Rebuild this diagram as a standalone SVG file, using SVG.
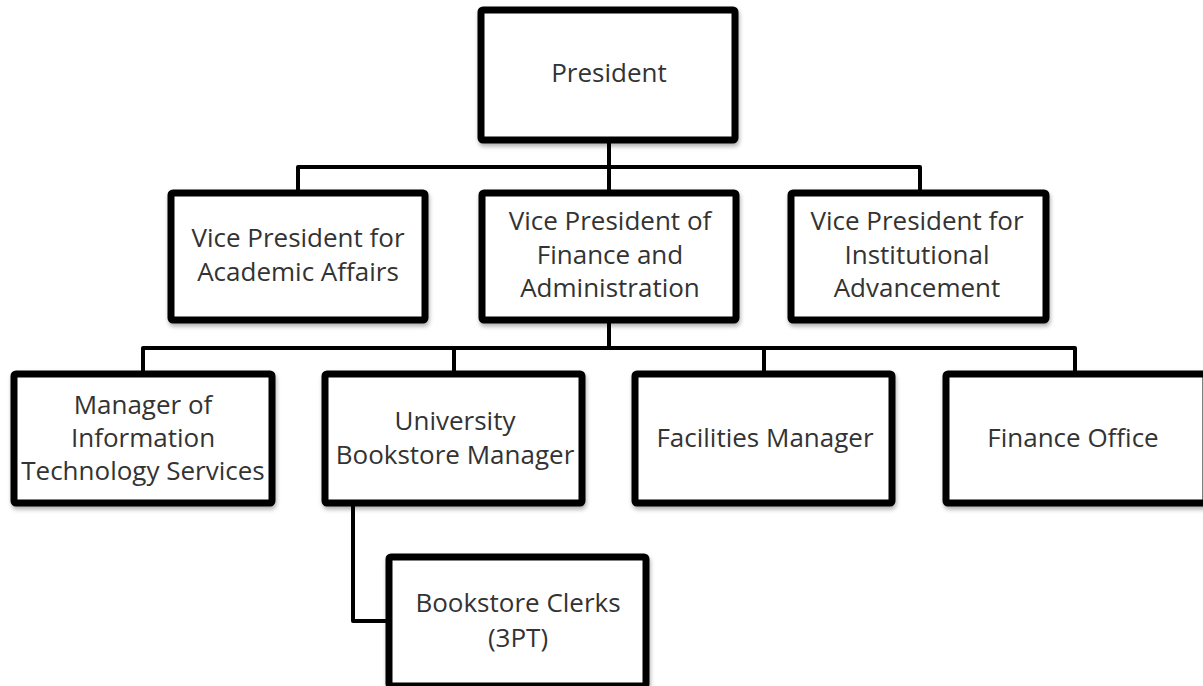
<svg xmlns="http://www.w3.org/2000/svg" width="1203" height="686" viewBox="0 0 1203 686">
  <style>
    .box { fill: #ffffff; stroke: #000000; stroke-width: 7; filter: url(#shadow); }
    .link { fill: none; stroke: #000000; stroke-width: 4; stroke-linejoin: round; }
    .label { font-family: "Open Sans", Lato, sans-serif; font-size: 26px; fill: #333333; text-anchor: middle; }
  </style>
  <defs>
    <filter id="shadow" x="-5%" y="-5%" width="115%" height="120%">
      <feDropShadow dx="1" dy="3" stdDeviation="2" flood-color="#000000" flood-opacity="0.3"/>
    </filter>
  </defs>
  <rect width="1203" height="686" fill="#ffffff"/>

  <!-- connectors -->
  <g id="connectors">
    <path class="link" d="M609 140 V193"/>
    <path class="link" d="M298 193 V167 H920 V193"/>
    <path class="link" d="M609 320 V348"/>
    <path class="link" d="M143 374 V348 H1075 V374"/>
    <path class="link" d="M454 348 V374"/>
    <path class="link" d="M764 348 V374"/>
    <path class="link" d="M353 503 V621 H389"/>
  </g>

  <g id="president">
    <rect class="box" x="481" y="10" width="254" height="130" rx="2"/>
    <text class="label" x="609" y="82">President</text>
  </g>

  <g id="vp-academic">
    <rect class="box" x="171" y="193" width="254" height="127" rx="2"/>
    <text class="label" x="298" y="247">Vice President for</text>
    <text class="label" x="298" y="281">Academic Affairs</text>
  </g>

  <g id="vp-finance">
    <rect class="box" x="482" y="193" width="254" height="127" rx="2"/>
    <text class="label" x="610" y="230">Vice President of</text>
    <text class="label" x="610" y="264">Finance and</text>
    <text class="label" x="610" y="297">Administration</text>
  </g>

  <g id="vp-institutional">
    <rect class="box" x="791" y="193" width="255" height="127" rx="2"/>
    <text class="label" x="917" y="230">Vice President for</text>
    <text class="label" x="917" y="264">Institutional</text>
    <text class="label" x="917" y="297">Advancement</text>
  </g>

  <g id="it-manager">
    <rect class="box" x="14" y="374" width="258" height="129" rx="2"/>
    <text class="label" x="143" y="414">Manager of</text>
    <text class="label" x="143" y="447">Information</text>
    <text class="label" x="143" y="480">Technology Services</text>
  </g>

  <g id="bookstore-manager">
    <rect class="box" x="325" y="374" width="257" height="129" rx="2"/>
    <text class="label" x="455" y="430">University</text>
    <text class="label" x="455" y="464">Bookstore Manager</text>
  </g>

  <g id="facilities-manager">
    <rect class="box" x="635" y="374" width="257" height="129" rx="2"/>
    <text class="label" x="765" y="447">Facilities Manager</text>
  </g>

  <g id="finance-office">
    <rect class="box" x="946" y="374" width="260" height="129" rx="2"/>
    <text class="label" x="1073" y="447">Finance Office</text>
  </g>

  <g id="bookstore-clerks">
    <rect class="box" x="389" y="557" width="257" height="129" rx="2"/>
    <text class="label" x="518" y="612">Bookstore Clerks</text>
    <text class="label" x="518" y="647">(3PT)</text>
  </g>
</svg>
